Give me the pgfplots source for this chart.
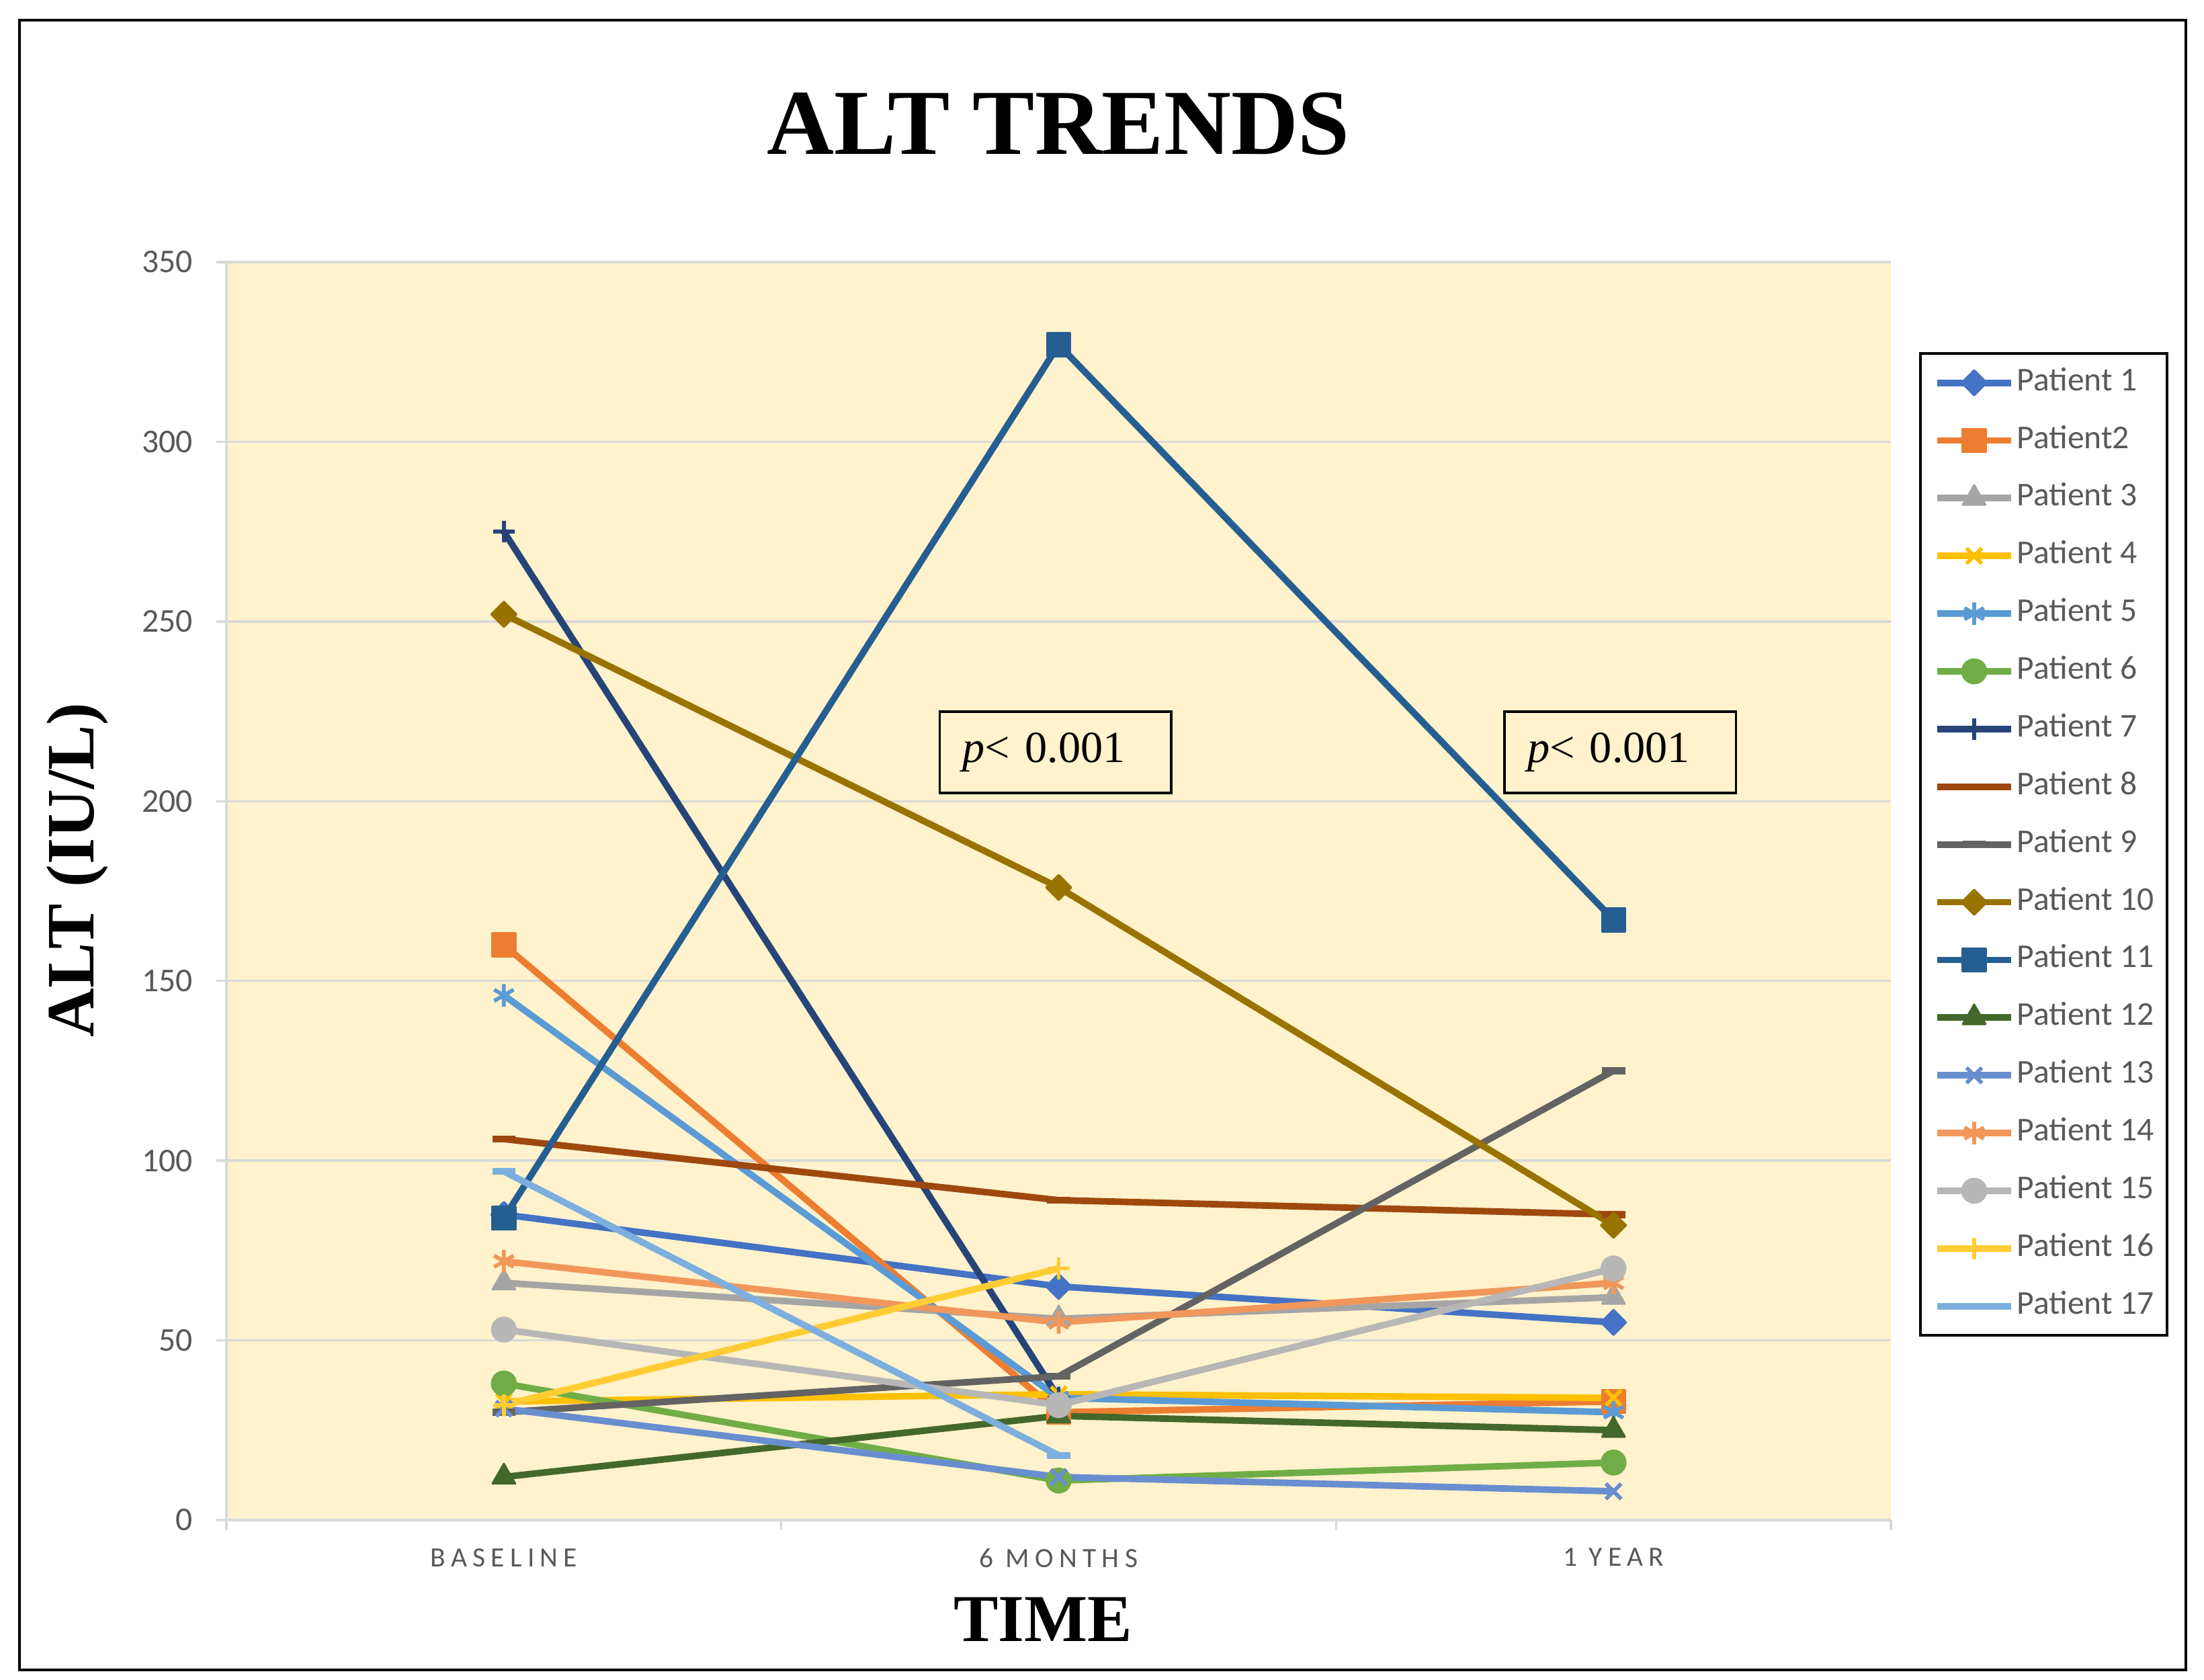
\documentclass[border=0pt]{standalone}
\usepackage{fontspec}
\setmainfont{Liberation Serif}
\newfontfamily\calibri{Carlito}
\newfontfamily\calibrisp[LetterSpace=20]{Carlito}
\usepackage{pgfplots}
\pgfplotsset{compat=1.18}
\definecolor{c1}{HTML}{4472C4}
\definecolor{c2}{HTML}{ED7D31}
\definecolor{c3}{HTML}{A5A5A5}
\definecolor{c4}{HTML}{FFC000}
\definecolor{c5}{HTML}{5B9BD5}
\definecolor{c6}{HTML}{70AD47}
\definecolor{c7}{HTML}{264478}
\definecolor{c8}{HTML}{9E480E}
\definecolor{c9}{HTML}{636363}
\definecolor{c10}{HTML}{997300}
\definecolor{c11}{HTML}{255E91}
\definecolor{c12}{HTML}{43682B}
\definecolor{c13}{HTML}{698ED0}
\definecolor{c14}{HTML}{F1975A}
\definecolor{c15}{HTML}{B7B7B7}
\definecolor{c16}{HTML}{FFCD33}
\definecolor{c17}{HTML}{7CAFDD}
\definecolor{bgc}{HTML}{FFF2CC}
\definecolor{gridc}{HTML}{D9D9D9}
\definecolor{tickc}{HTML}{595959}
\begin{document}
\begin{tikzpicture}
\path[use as bounding box] (-2.055,-1.445) rectangle (17.945,13.793);
\begin{axis}[
  at={(0,0)}, anchor=south west,
  width=15.104cm, height=11.415cm, scale only axis,
  xmin=-0.5, xmax=2.5, ymin=0, ymax=350,
  axis x line*=bottom, axis y line*=left,
  axis line style={draw=gridc, line width=0.6pt},
  axis background/.style={fill=bgc},
  xtick={0,1,2}, xticklabels={BASELINE,6 MONTHS,1 YEAR},
  minor xtick={-0.5,0.5,1.5,2.5},
  ytick={0,50,...,350},
  /pgf/number format/assume math mode=true,
  ymajorgrids, grid style={draw=gridc, line width=0.6pt},
  tick align=outside,
  major tick length=0.09cm, minor tick length=0.09cm,
  major x tick style={draw=none},
  minor x tick style={draw=gridc, line width=0.6pt},
  y tick style={draw=gridc, line width=0.6pt},
  xticklabel style={font=\calibrisp\fontsize{7.2}{8}\selectfont, text=tickc, anchor=north, inner sep=0pt, yshift=-0.16cm},
  yticklabel style={font=\calibri\fontsize{8.6}{10}\selectfont, text=tickc, anchor=east, inner sep=0pt, xshift=-0.21cm},
  every axis plot/.append style={line width=1.7pt, line join=round},
  legend style={at={(1.0169,0.9282)}, anchor=north west, draw=black, line width=0.7pt, fill=white,
    font=\calibri\fontsize{8.6}{10}\selectfont, text=tickc,
    inner xsep=0.12cm, inner ysep=3.5pt, row sep=6.9pt, column sep=0.02cm,
    nodes={inner sep=0pt, text height=6pt, text depth=2pt}},
  legend cell align=left,
  legend image code/.code={\draw[#1, mark repeat=2, mark phase=2] plot coordinates {(0cm,0cm) (0.338cm,0cm) (0.676cm,0cm)};},
]
\addplot[c1, mark=square*, mark options={rotate=45, fill=c1, line width=0.5pt}, mark size=2.3pt] coordinates {(0,85) (1,65) (2,55)};
\addlegendentry{Patient 1}
\addplot[c2, mark=square*, mark options={fill=c2, line width=0.5pt}, mark size=3pt] coordinates {(0,160) (1,30) (2,33)};
\addlegendentry{Patient2}
\addplot[c3, mark=triangle*, mark options={fill=c3, line width=0.5pt}, mark size=3.4pt] coordinates {(0,66) (1,56) (2,62)};
\addlegendentry{Patient 3}
\addplot[c4, mark=x, mark options={line width=1pt}, mark size=2.8pt] coordinates {(0,33) (1,35) (2,34)};
\addlegendentry{Patient 4}
\addplot[c5, mark=asterisk, mark options={line width=1pt}, mark size=2.9pt] coordinates {(0,146) (1,34) (2,30)};
\addlegendentry{Patient 5}
\addplot[c6, mark=*, mark options={fill=c6, line width=0.5pt}, mark size=3.1pt] coordinates {(0,38) (1,11) (2,16)};
\addlegendentry{Patient 6}
\addplot[c7, mark=+, mark options={line width=1pt}, mark size=2.8pt] coordinates {(0,275) (1,34)};
\addlegendentry{Patient 7}
\addplot[c8, mark=-, mark options={line width=1.8pt}, mark size=3pt] coordinates {(0,106) (1,89) (2,85)};
\addlegendentry{Patient 8}
\addplot[c9, mark=-, mark options={line width=1.8pt}, mark size=3pt] coordinates {(0,30) (1,40) (2,125)};
\addlegendentry{Patient 9}
\addplot[c10, mark=square*, mark options={rotate=45, fill=c10, line width=0.5pt}, mark size=2.3pt] coordinates {(0,252) (1,176) (2,82)};
\addlegendentry{Patient 10}
\addplot[c11, mark=square*, mark options={fill=c11, line width=0.5pt}, mark size=3pt] coordinates {(0,84) (1,327) (2,167)};
\addlegendentry{Patient 11}
\addplot[c12, mark=triangle*, mark options={fill=c12, line width=0.5pt}, mark size=3.4pt] coordinates {(0,12) (1,29) (2,25)};
\addlegendentry{Patient 12}
\addplot[c13, mark=x, mark options={line width=1pt}, mark size=2.8pt] coordinates {(0,31) (1,12) (2,8)};
\addlegendentry{Patient 13}
\addplot[c14, mark=asterisk, mark options={line width=1pt}, mark size=2.9pt] coordinates {(0,72) (1,55) (2,66)};
\addlegendentry{Patient 14}
\addplot[c15, mark=*, mark options={fill=c15, line width=0.5pt}, mark size=3.1pt] coordinates {(0,53) (1,32) (2,70)};
\addlegendentry{Patient 15}
\addplot[c16, mark=+, mark options={line width=1pt}, mark size=2.8pt] coordinates {(0,32) (1,70)};
\addlegendentry{Patient 16}
\addplot[c17, mark=-, mark options={line width=1.8pt}, mark size=3pt] coordinates {(0,97) (1,18)};
\addlegendentry{Patient 17}
\node[draw=black, line width=0.6pt, font=\fontsize{11.5}{13}\selectfont, minimum width=2.10cm, minimum height=0.74cm, text width=1.68cm, inner xsep=0.21cm, align=left] at (axis cs:0.994,213.6) {\raisebox{-0.05cm}{\textit{p}< 0.001}};
\node[draw=black, line width=0.6pt, font=\fontsize{11.5}{13}\selectfont, minimum width=2.10cm, minimum height=0.74cm, text width=1.68cm, inner xsep=0.21cm, align=left] at (axis cs:2.012,213.6) {\raisebox{-0.05cm}{\textit{p}< 0.001}};
\end{axis}
\node[font=\bfseries\fontsize{24}{28}\selectfont] at (7.55,12.67) {ALT TRENDS};
\node[font=\bfseries\fontsize{17.3}{21}\selectfont] at (7.41,-0.90) {TIME};
\node[font=\bfseries\fontsize{17.5}{21}\selectfont, rotate=90] at (-1.354,5.90) {ALT (IU/L)};
\draw[line width=0.8pt] (-1.878,-1.36) rectangle (17.78,13.61);
\end{tikzpicture}
\end{document}
